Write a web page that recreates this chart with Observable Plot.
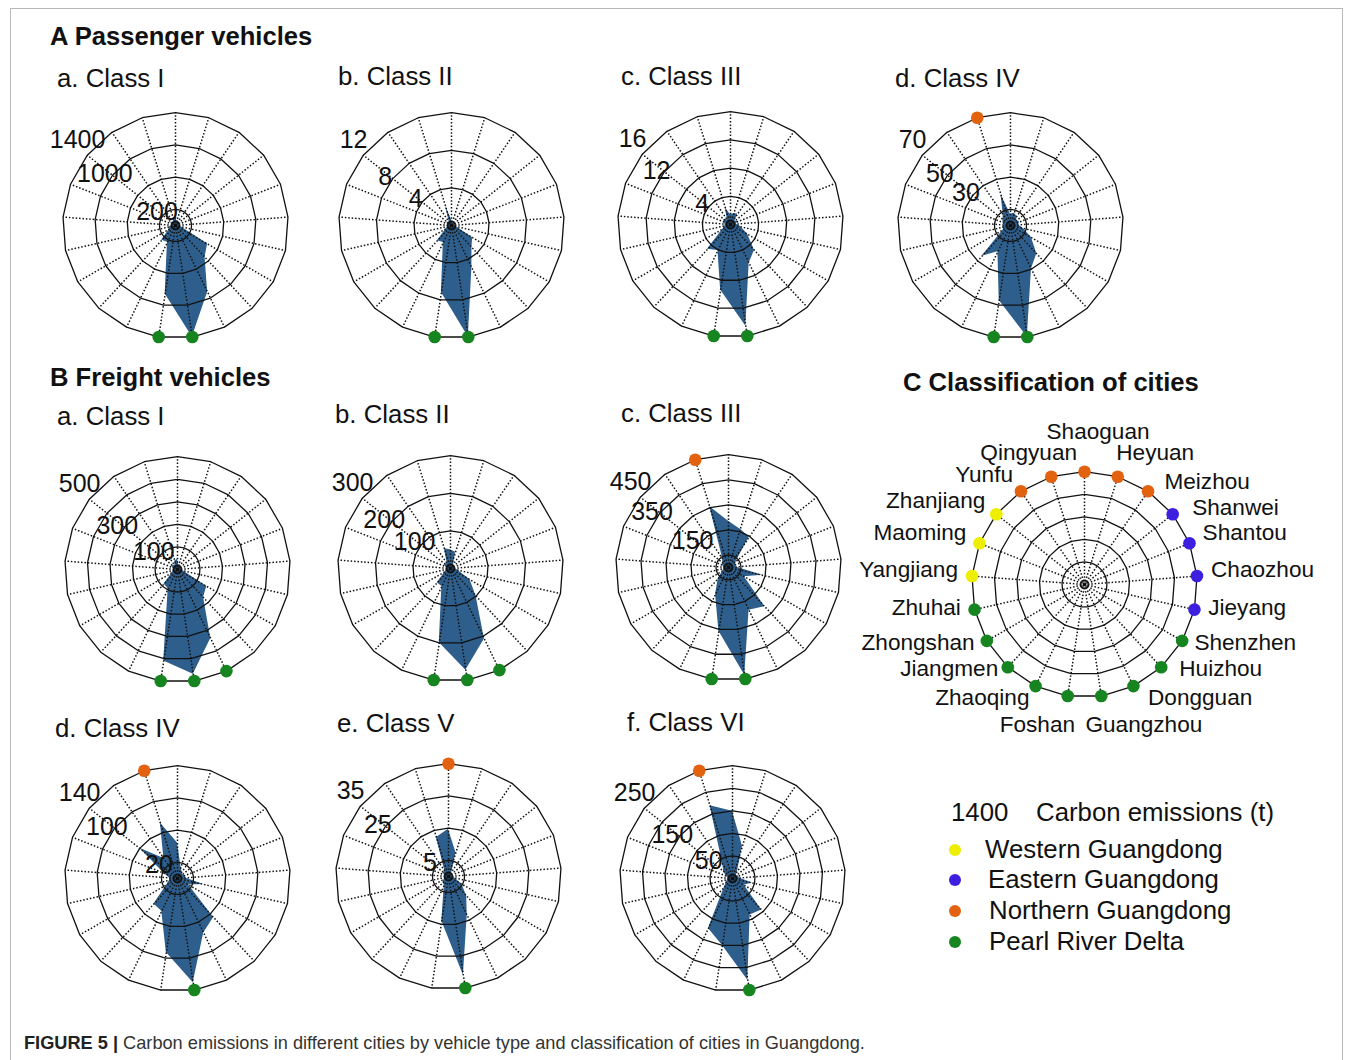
<!DOCTYPE html>
<html><head><meta charset="utf-8">
<script src="https://cdn.jsdelivr.net/npm/d3@7"></script>
<script src="https://cdn.jsdelivr.net/npm/@observablehq/plot@0.6"></script>
<style>
body{margin:0;background:#fff;font-family:"Liberation Sans",Arial,Helvetica,sans-serif;}
#fig{position:relative;width:1354px;height:1060px;overflow:hidden;background:#fff;}
.t{position:absolute;white-space:nowrap;line-height:1;color:#111;}
.h{font-weight:700;font-size:25.6px;}
.s{font-size:25.8px;}
.chart{position:absolute;width:300px;height:300px;}
.frame{position:absolute;left:10px;top:8px;width:1333px;height:1060px;border:1px solid #b8b8b8;box-sizing:border-box;}
.cap{position:absolute;left:24px;top:1033px;font-size:18.2px;color:#333;white-space:nowrap;}
.cap b{color:#222;}
.ld{position:absolute;width:12px;height:12px;border-radius:50%;}
</style></head><body><div id="fig"><div class="frame"></div></div><script>
// ---------------- data ----------------
const cities = ["Shaoguan","Heyuan","Meizhou","Shanwei","Shantou","Chaozhou","Jieyang","Shenzhen","Huizhou","Dongguan","Guangzhou","Foshan","Zhaoqing","Jiangmen","Zhongshan","Zhuhai","Yangjiang","Maoming","Zhanjiang","Yunfu","Qingyuan"];
const cityRegion = ["Northern","Northern","Northern","Eastern","Eastern","Eastern","Eastern","PRD","PRD","PRD","PRD","PRD","PRD","PRD","PRD","PRD","Western","Western","Western","Northern","Northern"];
const regionNames = ["Western","Eastern","Northern","PRD"];
const regionLabels = ["Western Guangdong","Eastern Guangdong","Northern Guangdong","Pearl River Delta"];
const regionColors = ["#eeee00","#3d1fe0","#e2620f","#17851f"];

const passenger1 = [110,60,70,50,80,40,70,460,540,920,1400,860,230,250,90,80,40,60,70,40,90];
const passenger2 = [0.6,0.3,0.3,0.3,0.4,0.3,0.5,2.6,3.2,5.0,12,7.2,2.0,2.2,0.6,0.4,0.3,0.5,0.6,0.4,2.2];
const passenger3 = [1.4,1.6,1.8,0.8,1.2,0.8,1.5,2.8,5.0,6.1,14.6,9.4,4.1,4.8,1.2,0.8,0.8,1.0,1.2,0.8,2.5];
const passenger4 = [7,8,7,5,6,5,8,15,24,30,70,47,18,26,5,5,4,5,6,8,20];
const freight1 = [45,20,25,15,25,15,25,150,170,340,470,410,95,87,25,20,15,25,30,20,40];
const freight2 = [50,45,15,10,15,10,20,60,100,208,274,200,53,52,15,12,10,15,20,15,55];
const freight3 = [185,160,147,40,30,30,139,73,213,189,435,257,119,60,25,20,20,25,30,40,254];
const freight4 = [44,15,10,8,10,10,33,16,66,75,131,93,45,43,15,10,10,18,60,30,72];
const freight5 = [14.7,7.8,2,1,1.5,1,2,4.8,8.3,13.4,31,14,3,2.5,1.5,1,1,1.5,2,2,12.7];
const freight6 = [149,75,20,10,15,15,45,30,95,90,228,150,123,26,15,12,10,15,25,38,169];

const ringsP1 = [200,600,1000,1400], labelsP1 = [200,1000,1400];
const ringsP2 = [4,8,12], labelsP2 = [4,8,12];
const ringsP3 = [4,8,12,16], labelsP3 = [4,12,16];
const ringsP4 = [10,30,50,70], labelsP4 = [30,50,70];
const ringsF1 = [100,200,300,400,500], labelsF1 = [100,300,500];
const ringsF2 = [100,200,300], labelsF2 = [100,200,300];
const ringsF3 = [50,150,250,350,450], labelsF3 = [150,350,450];
const ringsF4 = [20,60,100,140], labelsF4 = [20,100,140];
const ringsF5 = [5,15,25,35], labelsF5 = [5,25,35];
const ringsF6 = [50,100,150,200,250], labelsF6 = [50,150,250];
const ringsC = [1,2,3,4,5];

const dotsP1 = ["Foshan","Guangzhou"], dotsP2 = ["Foshan","Guangzhou"], dotsP3 = ["Foshan","Guangzhou"], dotsP4 = ["Qingyuan","Foshan","Guangzhou"];
const dotsF1 = ["Foshan","Guangzhou","Dongguan"], dotsF2 = ["Foshan","Guangzhou","Dongguan"], dotsF3 = ["Qingyuan","Foshan","Guangzhou"];
const dotsF4 = ["Qingyuan","Guangzhou"], dotsF5 = ["Shaoguan","Guangzhou"], dotsF6 = ["Qingyuan","Guangzhou"];

// ---------------- layout ----------------
const SIZE = 300, L = 1.33; // 1 unit ≈ 112.8 px
const fig = document.getElementById("fig");
const n = cities.length;
const ang = i => 2 * Math.PI * i / n;
const LA_OUT = 41 * Math.PI / 180, LA_IN = 36 * Math.PI / 180;
const FONT = "Liberation Sans, Arial, sans-serif";

function base(rings, max) {
  const ringPts = rings.flatMap(r => d3.range(n + 1).map(i => ({ring: r, x: r / max * Math.sin(ang(i % n)), y: r / max * Math.cos(ang(i % n))})));
  const spokes = cities.map((c, i) => ({x: Math.sin(ang(i)), y: Math.cos(ang(i))}));
  return [
    Plot.line(ringPts, {x: "x", y: "y", z: "ring", stroke: "#111", strokeWidth: 1.3}),
    Plot.link(spokes, {x1: 0, y1: 0, x2: "x", y2: "y", stroke: "#111", strokeWidth: 1.5, strokeDasharray: "1.5,1.9"}),
    Plot.dot([2.5, 5], {x: () => 0, y: () => 0, r: d => d, stroke: "#111", strokeWidth: 0.9, fill: "none"})
  ];
}

function radar(values, rings, labels, dots) {
  const max = rings[rings.length - 1];
  const pts = values.map((v, i) => ({x: v / max * Math.sin(ang(i)), y: v / max * Math.cos(ang(i))}));
  const dotData = dots.map(c => { const i = cities.indexOf(c); return {x: Math.sin(ang(i)), y: Math.cos(ang(i)), region: cityRegion[i]}; });
  const lab = labels.map(v => {
    const outer = v === max;
    const rr = v / max + (outer ? 0.15 : 0.06);
    const a = outer ? LA_OUT : LA_IN;
    return {x: -rr * Math.cos(a), y: rr * Math.sin(a), text: String(v)};
  });
  return Plot.plot({
    width: SIZE, height: SIZE, margin: 0,
    x: {domain: [-L, L], axis: null}, y: {domain: [-L, L], axis: null},
    color: {domain: regionNames, range: regionColors},
    style: {background: "transparent", overflow: "visible"},
    marks: [
      Plot.area(pts, {x1: "x", y1: "y", x2: 0, y2: 0, fill: "#2e5e8b", curve: "linear-closed"}),
      ...base(rings, max),
      Plot.dot(dotData, {x: "x", y: "y", r: 6.3, fill: "region"}),
      Plot.text(lab, {x: "x", y: "y", text: "text", fontSize: 25, fill: "#111", fontFamily: FONT})
    ]
  });
}

function cityPanel() {
  const max = ringsC[ringsC.length - 1];
  const dotData = cities.map((c, i) => ({x: Math.sin(ang(i)), y: Math.cos(ang(i)), region: cityRegion[i]}));
  const rr = 1.125;
  const lab = cities.map((c, i) => {
    const s = Math.sin(ang(i)), co = Math.cos(ang(i));
    let xf = 1, dx = 0, dy = 0.045;
    if (co > 0.99) { xf = 0; dx = 0.12; dy = 0.23; }
    else if (co > 0.95) { xf = s < 0 ? 0.2 : 0.85; dy = 0.09; }
    else if (co < -0.95) { xf = s < 0 ? 0.5 : 0.05; dy = -0.135; }
    else {
      if (s > 0 && Math.abs(co) > 0.55) dx = 0.075;
      if (s > 0 && co > 0.55) dy = -0.02;
      if (co < -0.85) dy = 0.005;
      else if (co < -0.65) dy = 0.078;
    }
    return {
      text: c,
      x: rr * s * xf + dx,
      y: rr * co + dy,
      anchor: s > 0.05 ? "start" : s < -0.05 ? "end" : "middle"
    };
  });
  const tm = a => Plot.text(lab.filter(d => d.anchor === a), {x: "x", y: "y", text: "text", textAnchor: a, fontSize: 22.6, fill: "#111", fontFamily: FONT});
  return Plot.plot({
    width: SIZE, height: SIZE, margin: 0,
    x: {domain: [-L, L], axis: null}, y: {domain: [-L, L], axis: null},
    color: {domain: regionNames, range: regionColors},
    style: {background: "transparent", overflow: "visible"},
    marks: [
      ...base(ringsC, max),
      Plot.dot(dotData, {x: "x", y: "y", r: 6.3, fill: "region"}),
      tm("start"), tm("end"), tm("middle")
    ]
  });
}

const charts = [
  [passenger1, ringsP1, labelsP1, dotsP1, 175, 225],
  [passenger2, ringsP2, labelsP2, dotsP2, 451, 225],
  [passenger3, ringsP3, labelsP3, dotsP3, 730, 224],
  [passenger4, ringsP4, labelsP4, dotsP4, 1010, 225],
  [freight1, ringsF1, labelsF1, dotsF1, 177, 569],
  [freight2, ringsF2, labelsF2, dotsF2, 450, 568],
  [freight3, ringsF3, labelsF3, dotsF3, 728, 567],
  [freight4, ringsF4, labelsF4, dotsF4, 177, 878],
  [freight5, ringsF5, labelsF5, dotsF5, 448, 876],
  [freight6, ringsF6, labelsF6, dotsF6, 732, 878]
];
function place(el, cx, cy) {
  const d = document.createElement("div");
  d.className = "chart";
  d.style.left = (cx - SIZE / 2) + "px";
  d.style.top = (cy - SIZE / 2) + "px";
  d.appendChild(el);
  fig.appendChild(d);
}
for (const [v, r, l, dt, cx, cy] of charts) place(radar(v, r, l, dt), cx, cy);
place(cityPanel(), 1084, 584);

// ---------------- text ----------------
function txt(s, x, cy, cls) {
  const d = document.createElement("div");
  d.className = "t " + cls;
  d.style.left = x + "px";
  d.style.top = (cy - 13) + "px";
  d.innerHTML = s;
  fig.appendChild(d);
}
txt("A Passenger vehicles", 50, 37, "h");
txt("a. Class I", 57, 79, "s");
txt("b. Class II", 338, 77, "s");
txt("c. Class III", 621, 77, "s");
txt("d. Class IV", 895, 79, "s");
txt("B Freight vehicles", 50, 378, "h");
txt("a. Class I", 57, 417, "s");
txt("b. Class II", 335, 415, "s");
txt("c. Class III", 621, 414, "s");
txt("d. Class IV", 55, 729, "s");
txt("e. Class V", 337, 724, "s");
txt("f. Class VI", 627, 723, "s");
txt("C Classification of cities", 903, 383, "h");
txt("1400", 951, 813, "s");
txt("Carbon emissions (t)", 1036, 813, "s");
const legY = [850, 880, 911, 942];
const legX = [985, 988, 989, 989];
regionLabels.forEach((lbl, i) => {
  const dot = document.createElement("div");
  dot.className = "ld";
  dot.style.left = (955 - 6) + "px";
  dot.style.top = (legY[i] - 6) + "px";
  dot.style.background = regionColors[i];
  fig.appendChild(dot);
  txt(lbl, legX[i], legY[i], "s");
});
const cap = document.createElement("div");
cap.className = "cap";
cap.innerHTML = "<b>FIGURE 5 |</b> Carbon emissions in different cities by vehicle type and classification of cities in Guangdong.";
fig.appendChild(cap);
</script></body></html>
